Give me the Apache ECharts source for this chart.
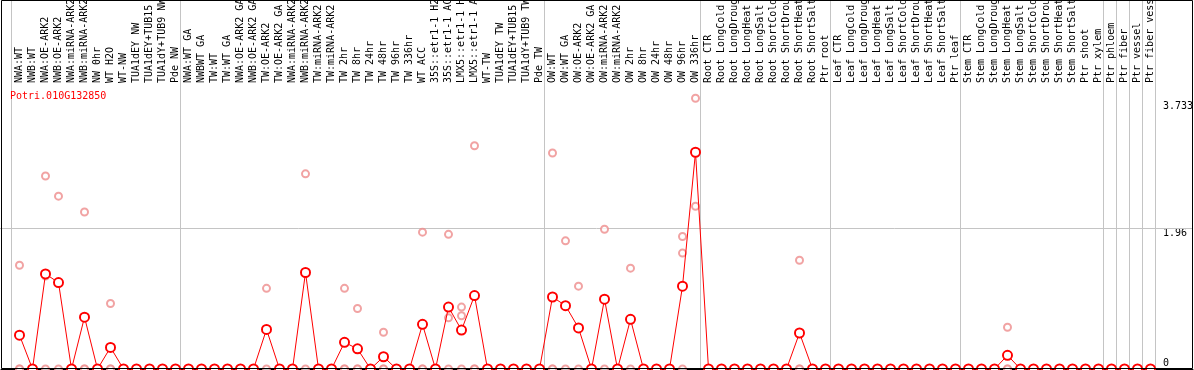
<!DOCTYPE html>
<html><head><meta charset="utf-8">
<script src="https://cdn.jsdelivr.net/npm/echarts@6/dist/echarts.min.js"></script>
<style>html,body{margin:0;padding:0;background:#fff}#c{width:1194px;height:370px}</style>
</head><body><div id="c"></div>
<script>
const geneName = 'Potri.010G132850';
const categories = [
  'NWA:WT','NWB:WT','NWA:OE-ARK2','NWB:OE-ARK2','NWA:miRNA-ARK2','NWB:miRNA-ARK2','NW 0hr','WT H2O','WT-NW','TUA1dEY NW','TUA1dEY+TUB15 NW','TUA1dY+TUB9 NW','Pde NW',
  'NWA:WT GA','NWBWT GA','TW:WT','TW:WT GA','NWA:OE-ARK2 GA','NWB:OE-ARK2 GA','TW:OE-ARK2','TW:OE-ARK2 GA','NWA:miRNA-ARK2','NWB:miRNA-ARK2','TW:miRNA-ARK2','TW:miRNA-ARK2','TW 2hr','TW 8hr','TW 24hr','TW 48hr','TW 96hr','TW 336hr','WT ACC','35S::etr1-1 H2O','35S::etr1-1 ACC','LMX5::etr1-1 H2O','LMX5::etr1-1 ACC','WT-TW','TUA1dEY TW','TUA1dEY+TUB15 TW','TUA1dY+TUB9 TW','Pde TW',
  'OW:WT','OW:WT GA','OW:OE-ARK2','OW:OE-ARK2 GA','OW:miRNA-ARK2','OW:miRNA-ARK2','OW 2hr','OW 8hr','OW 24hr','OW 48hr','OW 96hr','OW 336hr',
  'Root CTR','Root LongCold','Root LongDrought','Root LongHeat','Root LongSalt','Root ShortCold','Root ShortDrought','Root ShortHeat','Root ShortSalt','Ptr root',
  'Leaf CTR','Leaf LongCold','Leaf LongDrought','Leaf LongHeat','Leaf LongSalt','Leaf ShortCold','Leaf ShortDrought','Leaf ShortHeat','Leaf ShortSalt','Ptr leaf',
  'Stem CTR','Stem LongCold','Stem LongDrought','Stem LongHeat','Stem LongSalt','Stem ShortCold','Stem ShortDrought','Stem ShortHeat','Stem ShortSalt','Ptr shoot','Ptr xylem','Ptr phloem','Ptr fiber','Ptr vessel','Ptr fiber vessel'
];
const means = [
  0.47,0,1.32,1.20,0,0.72,0,0.30,0,0,0,0,0,
  0,0,0,0,0,0,0.55,0,0,1.34,0,0,0.37,
  0.28,0,0.17,0,0,0.62,0,0.86,0.54,1.02,0,0,0,
  0,0,1.00,0.88,0.57,0,0.97,0,0.69,0,0,0,1.15,
  3.01,0,0,0,0,0,0,0,0.50,0,0,0,0,
  0,0,0,0,0,0,0,0,0,0,0,0.19,0,
  0,0,0,0,0,0,0,0,0,0
];
const Z = [0,0,0];
const replicates = [
  [1.44,0,0],Z,[2.68,1.29,0],[2.40,0],Z,[2.18,0,0],Z,[0.91,0,0],Z,Z,Z,Z,Z,
  Z,Z,Z,Z,Z,Z,[1.12,0],Z,Z,[2.71,0],Z,Z,[1.12,0,0],
  [0.84,0,0],Z,[0.51,0,0],Z,Z,[1.90,0,0],Z,[1.87,0.71,0],[0.86,0.74,0],[3.10,0,0],Z,Z,Z,
  Z,Z,[3.00,0,0],[1.78,0],[1.15,0],Z,[1.94,0],Z,[1.40,0],Z,Z,Z,[1.84,1.61,0],
  [3.76,2.26],Z,Z,Z,Z,Z,Z,Z,[1.51,0,0],Z,Z,Z,Z,
  Z,Z,Z,Z,Z,Z,Z,Z,Z,Z,Z,[0.58,0,0],Z,
  Z,Z,Z,Z,Z,Z,Z,Z,Z,Z
];
const groupEnds = [-1, 12, 40, 52, 62, 72, 83, 84, 85, 86, 87];
const yTickValues = [0, 1.96, 3.733];
const gridLineValue = 1.96;
const yMax = 3.93;

// layout (pixels)
const firstX = 19.5, pitch = 13;
const gridL = 1, gridR = 1193, gridT = 86, gridB = 369;
const xMin = (gridL - firstX) / pitch, xMax = (gridR - firstX) / pitch;
const sepShift = -1.5 / pitch;
const mono = 'DejaVu Sans Mono';

const meanData = means.map((v, i) => [i, v]);
const repData = [];
replicates.forEach((arr, i) => arr.forEach(v => repData.push([i, v])));
const lineMarks = groupEnds.map(b => [
  { xAxis: b + 0.5 + sepShift, y: 0 },
  { xAxis: b + 0.5 + sepShift, y: gridB }
]);
lineMarks.push([{ yAxis: gridLineValue, x: 0 }, { yAxis: gridLineValue, x: gridR }]);

const chart = echarts.init(document.getElementById('c'), null, { renderer: 'canvas' });
chart.setOption({
  animation: false,
  backgroundColor: '#fff',
  title: {
    text: geneName, left: 10, top: 91, padding: 0,
    textStyle: { color: '#ff0000', fontFamily: mono, fontSize: 10, fontWeight: 'normal' }
  },
  grid: { left: gridL, right: 1194 - gridR, top: gridT, bottom: 370 - gridB, containLabel: false, outerBoundsMode: 'none' },
  xAxis: {
    type: 'value', position: 'top', min: xMin, max: xMax,
    axisLine: { show: true, lineStyle: { color: '#000', width: 1 } },
    axisTick: { show: false },
    splitLine: { show: false },
    axisLabel: {
      customValues: categories.map((c, i) => i),
      formatter: v => categories[Math.round(v)],
      rotate: 90, margin: 3, color: '#000', fontFamily: mono, fontSize: 10
    }
  },
  yAxis: {
    type: 'value', position: 'right', min: 0, max: yMax,
    axisLine: { show: false }, axisTick: { show: false }, splitLine: { show: false },
    axisLabel: {
      customValues: yTickValues, inside: true, margin: 30, align: 'left',
      color: '#000', fontFamily: mono, fontSize: 10,
      formatter: v => (v === 0 ? '{b|' + v + '}' : '{t|' + v + '}'),
      rich: {
        t: { fontFamily: mono, fontSize: 10, color: '#000', padding: [12, 0, 0, 0] },
        b: { fontFamily: mono, fontSize: 10, color: '#000', padding: [0, 0, 11, 0] }
      }
    }
  },
  graphic: [{
    type: 'rect', silent: true, z: 100,
    shape: { x: 1.5, y: 0.5, width: 1191, height: 368 },
    style: { fill: 'none', stroke: '#000', lineWidth: 1 }
  }],
  series: [
    {
      type: 'scatter', data: repData, z: 2, clip: false,
      symbol: 'emptyCircle', symbolSize: 7,
      itemStyle: { color: '#ee8c8c', borderColor: '#ee8c8c', borderWidth: 1.2 },
      markLine: {
        silent: true, z: 1, symbol: 'none', animation: false,
        label: { show: false },
        lineStyle: { color: '#c4c4c4', width: 1, type: 'solid' },
        emphasis: { disabled: true },
        data: lineMarks
      }
    },
    {
      type: 'line', data: meanData, z: 3, clip: false,
      symbol: 'emptyCircle', symbolSize: 9, showAllSymbol: true,
      lineStyle: { color: '#ff0000', width: 1 },
      itemStyle: { color: '#ff0000', borderColor: '#ff0000', borderWidth: 1.1 }
    },
    {
      type: 'scatter', data: meanData, z: 4, clip: false,
      symbol: 'emptyCircle', symbolSize: 6.5,
      itemStyle: { color: 'rgba(0,0,0,0)', borderColor: 'rgba(30,0,0,0.8)', borderWidth: 0.9 }
    }
  ]
});
</script></body></html>
